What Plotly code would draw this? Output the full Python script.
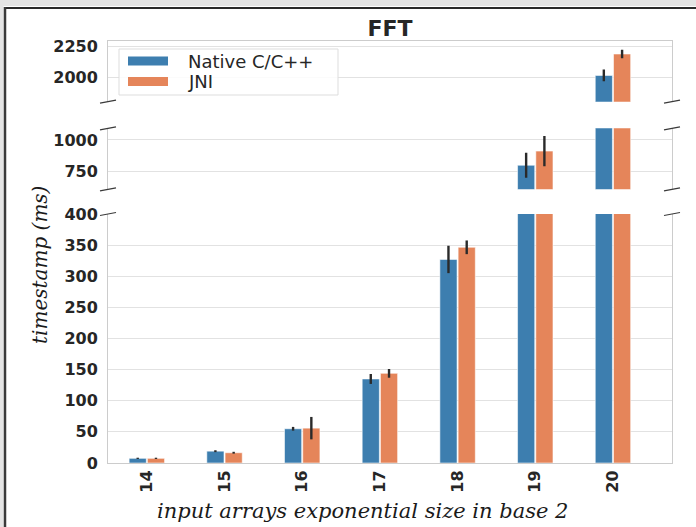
import plotly.graph_objects as go

# ---------------- data ----------------
categories = ["14", "15", "16", "17", "18", "19", "20"]
native_vals = [7.5, 19, 55, 135, 327, 798, 2018]
jni_vals = [7.5, 16.5, 56, 144, 346.5, 911, 2191]
native_err = [1, 1.5, 3, 8, 22, 100, 47]
jni_err = [1, 1.5, 18, 7, 11, 121, 35]
series_names = ["Native C/C++", "JNI"]
series_colors = ["#3d7eaf", "#e5855a"]

bottom_ticks = [0, 50, 100, 150, 200, 250, 300, 350, 400]
middle_ticks = [750, 1000]
top_ticks = [2000, 2250]

# ---------------- geometry (pixels) ----------------
W, H = 696, 527
L, R, T, B = 108, 24, 41, 64
PW = W - L - R
PH = H - T - B


def px(x):
    return (x - L) / PW


def py(y):
    return (H - B - y) / PH


panels = [  # (yaxis name, xaxis name, top px, bottom px, range, ticks)
    ("y", "x", 214, 463, [0, 400], bottom_ticks),
    ("y2", "x3", 128.3, 189.3, [606, 1093], middle_ticks),
    ("y3", "x2", 41, 101.7, [1806, 2296], top_ticks),
]

fig = go.Figure()
vals = [native_vals, jni_vals]
errs = [native_err, jni_err]
for yname, xname, _, _, _, _ in panels:
    for i in range(2):
        fig.add_trace(go.Bar(
            x=categories, y=vals[i], name=series_names[i],
            marker=dict(color=series_colors[i],
                        line=dict(color="rgba(255,255,255,0.55)", width=1)),
            error_y=dict(type="data", array=errs[i], visible=True,
                         color="#2a2a2a", thickness=2.4, width=0),
            xaxis=xname, yaxis=yname, showlegend=False,
        ))

tickfont = dict(family="DejaVu Sans", size=16, color="#262626", weight="bold")
grid = "#e2e2e2"
spine = "#cccccc"
xrange_ = [-0.5, 6.76]

layout = dict(
    width=W, height=H,
    margin=dict(l=L, r=R, t=T, b=B),
    paper_bgcolor="white", plot_bgcolor="white",
    barmode="group", bargap=0.53, bargroupgap=0.06,
    showlegend=False,
    title=dict(text="<b>FFT</b>", x=390 / W, xanchor="center",
               y=1 - 28 / H, yanchor="middle",
               font=dict(family="DejaVu Sans", size=22, color="#262626")),
)
layout["xaxis"] = dict(type="category", range=xrange_, anchor="y", domain=[0, 1],
                       showgrid=False, showline=True, linecolor=spine, linewidth=1,
                       tickangle=-90, tickfont=tickfont, ticks="",
                       zeroline=False)
layout["xaxis2"] = dict(type="category", range=xrange_, anchor="y3", side="top",
                        matches="x", showgrid=False, showline=True, linecolor=spine,
                        linewidth=1, showticklabels=False, zeroline=False)
layout["xaxis3"] = dict(type="category", range=xrange_, anchor="y2",
                        matches="x", showgrid=False, showline=False,
                        showticklabels=False, zeroline=False)

axis_names = {"y": "yaxis", "y2": "yaxis2", "y3": "yaxis3"}
for yname, xname, top, bot, rng, ticks in panels:
    layout[axis_names[yname]] = dict(
        domain=[py(bot), py(top)], range=rng, anchor="x",
        tickvals=ticks, ticktext=[str(t) for t in ticks],
        tickfont=tickfont, showgrid=True, gridcolor=grid, gridwidth=1,
        showline=True, mirror=True, linecolor=spine, linewidth=1,
        zeroline=False, ticks="outside", ticklen=6, tickcolor="rgba(0,0,0,0)",
    )

fig.update_layout(**layout)

shapes = []
# broken-axis marks
for yb in [101.7, 128.3, 189.3, 214]:
    for xe in [L, W - R]:
        shapes.append(dict(type="line", xref="paper", yref="paper",
                           x0=px(xe - 8), y0=py(yb + 1.5), x1=px(xe + 8), y1=py(yb - 1.5),
                           line=dict(color="#3a3a3a", width=1.2)))
# outer frame of the picture
shapes.append(dict(type="rect", xref="paper", yref="paper", x0=px(0), x1=px(W),
                   y0=py(6), y1=py(0), fillcolor="#e4e4e4", line=dict(width=0)))
shapes.append(dict(type="rect", xref="paper", yref="paper", x0=px(0), x1=px(3.5),
                   y0=py(H), y1=py(0), fillcolor="#e4e4e4", line=dict(width=0)))
shapes.append(dict(type="line", xref="paper", yref="paper", x0=px(4), x1=px(W),
                   y0=py(8), y1=py(8), line=dict(color="#2a2a2a", width=2)))
shapes.append(dict(type="line", xref="paper", yref="paper", x0=px(5), x1=px(5),
                   y0=py(7), y1=py(H), line=dict(color="#3a3a3a", width=2.5)))
# legend box and patches
shapes.append(dict(type="rect", xref="paper", yref="paper", x0=px(119), x1=px(338),
                   y0=py(95), y1=py(49), fillcolor="rgba(255,255,255,0.85)",
                   line=dict(color="#dddddd", width=1)))
patch_rows = [61, 81.5]
for i in range(2):
    shapes.append(dict(type="rect", xref="paper", yref="paper", x0=px(128), x1=px(168),
                       y0=py(patch_rows[i] + 4.5), y1=py(patch_rows[i] - 4.5),
                       fillcolor=series_colors[i], line=dict(width=0)))

annotations = []
for i in range(2):
    annotations.append(dict(text=series_names[i], xref="paper", yref="paper",
                            x=px(186), y=py(patch_rows[i]), xanchor="left", yanchor="middle",
                            showarrow=False,
                            font=dict(family="DejaVu Sans", size=18, color="#262626")))
annotations.append(dict(text="<i>timestamp (ms)</i>", xref="paper", yref="paper",
                        x=px(40), y=py(265), xanchor="center", yanchor="middle",
                        textangle=-90, showarrow=False,
                        font=dict(family="DejaVu Serif", size=20, color="#1a1a1a")))
annotations.append(dict(text="<i>input arrays exponential size in base 2</i>",
                        xref="paper", yref="paper", x=px(362), y=py(511),
                        xanchor="center", yanchor="middle", showarrow=False,
                        font=dict(family="DejaVu Serif", size=21, color="#1a1a1a")))

fig.update_layout(shapes=shapes, annotations=annotations)
fig.write_html("out.html")
